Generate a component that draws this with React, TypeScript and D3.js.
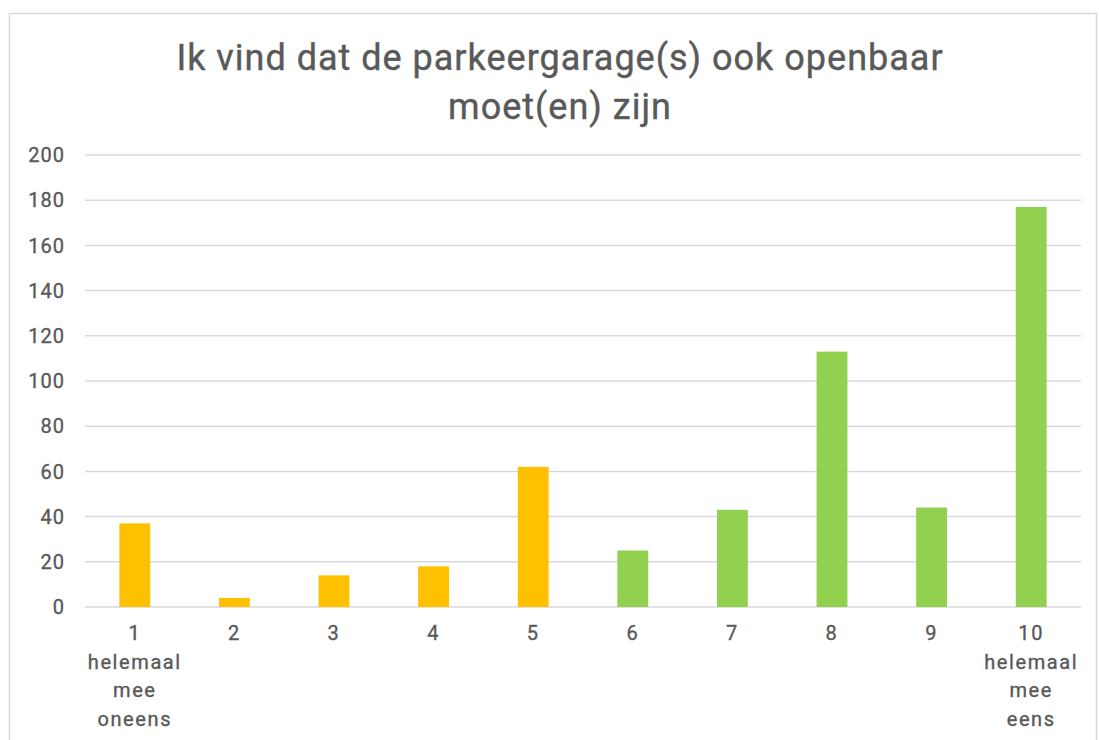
import React from "react";
import * as d3 from "d3";

const categories = ["1", "2", "3", "4", "5", "6", "7", "8", "9", "10"];
const subLabels: Record<string, string[]> = {
  "1": ["helemaal", "mee", "oneens"],
  "10": ["helemaal", "mee", "eens"],
};
const values = [37, 4, 14, 18, 62, 25, 43, 113, 44, 177];
const barColors = ["#FFC000", "#FFC000", "#FFC000", "#FFC000", "#FFC000", "#92D050", "#92D050", "#92D050", "#92D050", "#92D050"];
const yTicks = [0, 20, 40, 60, 80, 100, 120, 140, 160, 180, 200];
const titleLines = ["Ik vind dat de parkeergarage(s) ook openbaar", "moet(en) zijn"];

const W = 1099;
const H = 740;
const FONT = "Roboto, 'Open Sans', sans-serif";
const TEXT = "#595959";

export default function App() {
  const left = 85, right = 1081, top = 155, bottom = 607;
  const x = d3.scaleBand<string>().domain(categories).range([left, right]).paddingInner(0.69).paddingOuter(0.345);
  const y = d3.scaleLinear().domain([0, 200]).range([bottom, top]);

  return (
    <svg width={W} height={H} style={{ position: "absolute", left: 0, top: 0 }} fontFamily={FONT}>
      <rect x={0} y={0} width={W} height={H} fill="#fff" />
      <rect x={9.5} y={13.5} width={1087} height={760} fill="#fff" stroke="#d9d9d9" strokeWidth={1.5} />
      {titleLines.map((t, i) => (
        <text key={i} x={560} y={70 + i * 49} textAnchor="middle" fontSize={36} fontWeight={400} letterSpacing={1} fill={TEXT} stroke={TEXT} strokeWidth={0.4}>{t}</text>
      ))}
      {yTicks.map((t) => (
        <g key={t}>
          <line x1={left} x2={right} y1={y(t)} y2={y(t)} stroke="#d9d9d9" strokeWidth={1.5} />
          <text x={65} y={y(t)} dy="0.36em" textAnchor="end" fontSize={20} fontWeight={400} letterSpacing={1} fill={TEXT} stroke={TEXT} strokeWidth={0.35}>{t}</text>
        </g>
      ))}
      {categories.map((c, i) => (
        <rect key={c} x={x(c)} y={y(values[i])} width={x.bandwidth()} height={y(0) - y(values[i])} fill={barColors[i]} />
      ))}
      {categories.map((c) => {
        const cx = (x(c) as number) + x.bandwidth() / 2;
        const lines = [c, ...(subLabels[c] || [])];
        return (
          <text key={c} x={cx} textAnchor="middle" fontSize={20} fontWeight={400} letterSpacing={1.6} fill={TEXT} stroke={TEXT} strokeWidth={0.35}>
            {lines.map((l, j) => (
              <tspan key={j} x={cx} y={640 + j * 28.5}>{l}</tspan>
            ))}
          </text>
        );
      })}
    </svg>
  );
}
